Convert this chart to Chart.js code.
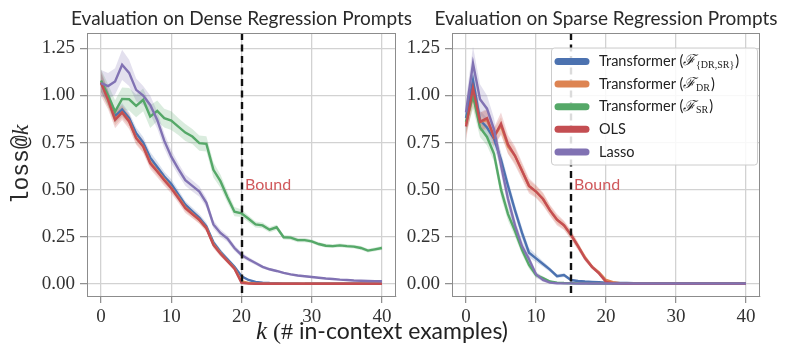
<!DOCTYPE html>
<html>
<head>
<meta charset="utf-8">
<script src="https://cdn.jsdelivr.net/npm/chart.js@4.4.1/dist/chart.umd.min.js"></script>
<style>
  body { margin: 0; background: #fff; width: 789px; height: 359px; overflow: hidden; position: relative; }
  #dense { position: absolute; left: 0; top: 0; }
  #sparse { position: absolute; left: 400px; top: 0; }
  #xlabel { position: absolute; left: 256px; top: 316px; line-height: 1; white-space: nowrap; color: #222; font: 23px Lato, sans-serif; }
  #xlabel .m { font: italic 25px "Liberation Serif", serif; }
  #xlabel .s { font: 24px "Liberation Serif", serif; }
</style>
</head>
<body>
<canvas id="dense" width="420" height="359"></canvas>
<canvas id="sparse" width="389" height="359"></canvas>
<div id="xlabel"><span class="m">k</span><span class="s"> (#</span> in-context examples)</div>
<script>
// k = number of in-context examples
const kValues = [0, 1, 2, 3, 4, 5, 6, 7, 8, 9, 10, 11, 12, 13, 14, 15, 16, 17, 18, 19, 20,
  21, 22, 23, 24, 25, 26, 27, 28, 29, 30, 31, 32, 33, 34, 35, 36, 37, 38, 39, 40];
const xTicks = [0, 10, 20, 30, 40];
const yTicks = [0, 0.25, 0.5, 0.75, 1.0, 1.25];

const seriesNames = ['Transformer', 'Transformer', 'Transformer', 'OLS', 'Lasso'];
const seriesSubs = ['{DR,SR}', 'DR', 'SR', '', ''];
const seriesColors = ['#4C72B0', '#DD8452', '#55A868', '#C44E52', '#8172B3'];

const denseBound = 20;
const sparseBound = 15;

// ---- dense regression prompts (left) ----
const denseBlue = [1.07, 0.99, 0.89, 0.925, 0.88, 0.80, 0.75, 0.67, 0.62, 0.57,
  0.53, 0.475, 0.42, 0.385, 0.35, 0.305, 0.22, 0.17, 0.13, 0.09,
  0.04, 0.02, 0.01, 0.006, 0.004, 0.003, 0.002, 0.002, 0.002, 0.001,
  0.001, 0.001, 0.001, 0.001, 0.001, 0.001, 0.001, 0.001, 0.001, 0.001, 0.001];
const denseOrange = [1.07, 0.98, 0.875, 0.91, 0.865, 0.775, 0.73, 0.645, 0.60, 0.555,
  0.51, 0.46, 0.405, 0.372, 0.34, 0.297, 0.21, 0.163, 0.122, 0.082,
  0.012, 0.004, 0.002, 0.001, 0, 0, 0, 0, 0, 0,
  0, 0, 0, 0, 0, 0, 0, 0, 0, 0, 0];
const denseGreen = [1.08, 1.0, 0.915, 0.982, 0.98, 0.945, 0.977, 0.888, 0.918, 0.88,
  0.867, 0.835, 0.803, 0.782, 0.747, 0.743, 0.605, 0.545, 0.46, 0.383,
  0.374, 0.345, 0.315, 0.31, 0.287, 0.30, 0.247, 0.245, 0.232, 0.232,
  0.225, 0.211, 0.202, 0.2, 0.204, 0.2, 0.197, 0.19, 0.176, 0.183, 0.19];
const denseRed = [1.066, 0.977, 0.871, 0.91, 0.862, 0.773, 0.729, 0.64, 0.596, 0.55,
  0.507, 0.455, 0.401, 0.37, 0.339, 0.295, 0.206, 0.16, 0.12, 0.08,
  0.005, 0.001, 0, 0, 0, 0, 0, 0, 0, 0,
  0, 0, 0, 0, 0, 0, 0, 0, 0, 0, 0];
const densePurple = [1.066, 1.05, 1.075, 1.163, 1.12, 1.03, 1.0, 0.95, 0.87, 0.76,
  0.675, 0.61, 0.55, 0.52, 0.49, 0.43, 0.315, 0.27, 0.24, 0.19,
  0.153, 0.13, 0.11, 0.09, 0.077, 0.068, 0.058, 0.05, 0.044, 0.04,
  0.036, 0.032, 0.028, 0.025, 0.022, 0.02, 0.017, 0.016, 0.015, 0.014, 0.013];

// half widths of the shaded bands
const denseBlueBand = [0.05, 0.04, 0.035, 0.035, 0.03, 0.03, 0.03, 0.03, 0.03, 0.025,
  0.025, 0.025, 0.02, 0.02, 0.02, 0.02, 0.015, 0.015, 0.012, 0.01,
  0.008, 0.005, 0.003, 0.002, 0.001, 0.001, 0.001, 0.001, 0.001, 0.001,
  0.001, 0.001, 0.001, 0.001, 0.001, 0.001, 0.001, 0.001, 0.001, 0.001, 0.001];
const denseOrangeBand = [0.05, 0.04, 0.035, 0.03, 0.03, 0.03, 0.03, 0.025, 0.025, 0.025,
  0.02, 0.02, 0.02, 0.02, 0.02, 0.015, 0.015, 0.012, 0.01, 0.01,
  0.006, 0.003, 0.001, 0, 0, 0, 0, 0, 0, 0,
  0, 0, 0, 0, 0, 0, 0, 0, 0, 0, 0];
const denseGreenBand = [0.06, 0.06, 0.06, 0.06, 0.06, 0.06, 0.06, 0.06, 0.055, 0.05,
  0.05, 0.045, 0.045, 0.04, 0.04, 0.04, 0.04, 0.035, 0.03, 0.025,
  0.02, 0.018, 0.016, 0.015, 0.015, 0.014, 0.012, 0.012, 0.011, 0.011,
  0.01, 0.01, 0.01, 0.01, 0.01, 0.01, 0.01, 0.01, 0.01, 0.01, 0.01];
const denseRedBand = [0.07, 0.05, 0.045, 0.04, 0.04, 0.035, 0.035, 0.03, 0.03, 0.03,
  0.028, 0.025, 0.025, 0.022, 0.02, 0.02, 0.018, 0.015, 0.012, 0.01,
  0.005, 0.002, 0, 0, 0, 0, 0, 0, 0, 0,
  0, 0, 0, 0, 0, 0, 0, 0, 0, 0, 0];
const densePurpleBand = [0.07, 0.07, 0.07, 0.08, 0.07, 0.06, 0.05, 0.05, 0.045, 0.04,
  0.035, 0.032, 0.03, 0.03, 0.028, 0.025, 0.022, 0.02, 0.018, 0.016,
  0.014, 0.012, 0.01, 0.009, 0.008, 0.007, 0.006, 0.006, 0.005, 0.005,
  0.005, 0.004, 0.004, 0.004, 0.004, 0.004, 0.003, 0.003, 0.003, 0.003, 0.003];

// ---- sparse regression prompts (right) ----
const sparseBlue = [0.88, 1.08, 0.87, 0.83, 0.77, 0.66, 0.52, 0.39, 0.27, 0.165,
  0.135, 0.105, 0.075, 0.04, 0.046, 0.02, 0.015, 0.012, 0.01, 0.008,
  0.006, 0.005, 0.004, 0.004, 0.003, 0.003, 0.003, 0.002, 0.002, 0.002,
  0.002, 0.002, 0.002, 0.002, 0.002, 0.002, 0.002, 0.002, 0.002, 0.002, 0.002];
const sparseOrange = [0.85, 1.0, 0.86, 0.87, 0.78, 0.84, 0.73, 0.68, 0.60, 0.52,
  0.49, 0.45, 0.39, 0.34, 0.31, 0.26, 0.2, 0.14, 0.09, 0.06,
  0.02, 0.008, 0.003, 0.001, 0, 0, 0, 0, 0, 0,
  0, 0, 0, 0, 0, 0, 0, 0, 0, 0, 0];
const sparseGreen = [0.86, 1.0, 0.83, 0.78, 0.69, 0.50, 0.37, 0.28, 0.18, 0.10,
  0.046, 0.03, 0.012, 0.006, 0.004, 0.003, 0.002, 0.002, 0.001, 0.001,
  0.001, 0.001, 0.001, 0.001, 0.001, 0.001, 0.001, 0.001, 0.001, 0.001,
  0.001, 0.001, 0.001, 0.001, 0.001, 0.001, 0.001, 0.001, 0.001, 0.001, 0.001];
const sparseRed = [0.835, 1.04, 0.86, 0.88, 0.78, 0.85, 0.74, 0.68, 0.60, 0.52,
  0.49, 0.45, 0.39, 0.34, 0.31, 0.26, 0.2, 0.135, 0.09, 0.055,
  0.01, 0.003, 0.001, 0, 0, 0, 0, 0, 0, 0,
  0, 0, 0, 0, 0, 0, 0, 0, 0, 0, 0];
const sparsePurple = [0.91, 1.17, 0.98, 0.93, 0.82, 0.63, 0.45, 0.31, 0.20, 0.13,
  0.05, 0.02, 0.006, 0.003, 0.002, 0.002, 0.001, 0.001, 0.001, 0.001,
  0.001, 0.001, 0.001, 0.001, 0.001, 0.001, 0.001, 0.001, 0.001, 0.001,
  0.001, 0.001, 0.001, 0.001, 0.001, 0.001, 0.001, 0.001, 0.001, 0.001, 0.001];

const sparseBlueBand = [0.06, 0.08, 0.05, 0.05, 0.045, 0.04, 0.035, 0.03, 0.03, 0.025,
  0.02, 0.015, 0.012, 0.01, 0.01, 0.006, 0.004, 0.003, 0.002, 0.002,
  0.001, 0.001, 0.001, 0.001, 0.001, 0.001, 0.001, 0.001, 0.001, 0.001,
  0.001, 0.001, 0.001, 0.001, 0.001, 0.001, 0.001, 0.001, 0.001, 0.001, 0.001];
const sparseOrangeBand = [0.06, 0.06, 0.05, 0.05, 0.045, 0.045, 0.04, 0.04, 0.035, 0.03,
  0.03, 0.03, 0.025, 0.022, 0.02, 0.02, 0.018, 0.015, 0.012, 0.01,
  0.006, 0.003, 0.002, 0.001, 0, 0, 0, 0, 0, 0,
  0, 0, 0, 0, 0, 0, 0, 0, 0, 0, 0];
const sparseGreenBand = [0.06, 0.07, 0.05, 0.045, 0.04, 0.04, 0.035, 0.03, 0.025, 0.02,
  0.015, 0.01, 0.005, 0.003, 0.002, 0.002, 0.001, 0.001, 0.001, 0.001,
  0.001, 0.001, 0.001, 0.001, 0.001, 0.001, 0.001, 0.001, 0.001, 0.001,
  0.001, 0.001, 0.001, 0.001, 0.001, 0.001, 0.001, 0.001, 0.001, 0.001, 0.001];
const sparseRedBand = [0.07, 0.07, 0.05, 0.05, 0.05, 0.06, 0.05, 0.05, 0.045, 0.04,
  0.035, 0.035, 0.03, 0.03, 0.025, 0.025, 0.02, 0.016, 0.012, 0.01,
  0.005, 0.002, 0.001, 0, 0, 0, 0, 0, 0, 0,
  0, 0, 0, 0, 0, 0, 0, 0, 0, 0, 0];
const sparsePurpleBand = [0.07, 0.09, 0.08, 0.07, 0.06, 0.05, 0.04, 0.035, 0.03, 0.022,
  0.015, 0.01, 0.005, 0.003, 0.002, 0.001, 0.001, 0.001, 0.001, 0.001,
  0.001, 0.001, 0.001, 0.001, 0.001, 0.001, 0.001, 0.001, 0.001, 0.001,
  0.001, 0.001, 0.001, 0.001, 0.001, 0.001, 0.001, 0.001, 0.001, 0.001, 0.001];

const frameColor = '#8c8c8c';
const gridColor = '#d2d2d2';

function rgba(hex, a) {
  const n = parseInt(hex.slice(1), 16);
  return `rgba(${n >> 16}, ${(n >> 8) & 255}, ${n & 255}, ${a})`;
}

function buildDatasets(means, bands) {
  const sets = [];
  means.forEach((m, i) => {
    const up = kValues.map((k, j) => ({ x: k, y: m[j] + bands[i][j] }));
    const lo = kValues.map((k, j) => ({ x: k, y: m[j] - bands[i][j] }));
    sets.push({ data: up, borderWidth: 0, borderColor: 'transparent', pointRadius: 0,
      fill: '+1', backgroundColor: rgba(seriesColors[i], 0.22), order: 20 - i });
    sets.push({ data: lo, borderWidth: 0, borderColor: 'transparent', pointRadius: 0,
      fill: false, order: 20 - i });
  });
  means.forEach((m, i) => {
    sets.push({ label: seriesNames[i], data: kValues.map((k, j) => ({ x: k, y: m[j] })),
      borderColor: seriesColors[i], borderWidth: 2.4, pointRadius: 0, fill: false,
      order: 4 - i });
  });
  return sets;
}

// dashed bound, titles, frame, y label and the legend
const panelDecor = {
  id: 'panelDecor',
  afterDatasetsDraw(chart, args, o) {
    const { ctx, chartArea: a, scales: { x, y } } = chart;
    const bx = Math.round(x.getPixelForValue(o.bound));
    ctx.save();
    ctx.strokeStyle = '#111';
    ctx.lineWidth = 2.4;
    ctx.setLineDash([7, 4.5]);
    ctx.beginPath();
    ctx.moveTo(bx, a.top);
    ctx.lineTo(bx, a.bottom);
    ctx.stroke();
    ctx.setLineDash([]);
    ctx.fillStyle = '#d0595c';
    ctx.font = '16px Lato';
    ctx.textBaseline = 'alphabetic';
    ctx.fillText('Bound', bx + 3, y.getPixelForValue(0.5));
    ctx.restore();
  },
  afterDraw(chart, args, o) {
    const { ctx, chartArea: a } = chart;
    ctx.save();
    // frame top / right
    ctx.strokeStyle = frameColor;
    ctx.lineWidth = 1;
    ctx.strokeRect(Math.round(a.left) + 0.5, Math.round(a.top) + 0.5,
      Math.round(a.right - a.left) - 1, Math.round(a.bottom - a.top));
    // title
    ctx.fillStyle = '#2a2a2a';
    ctx.font = '19px Lato';
    ctx.textAlign = 'center';
    ctx.textBaseline = 'alphabetic';
    ctx.fillText(o.title, (a.left + a.right) / 2, 25);
    // y label
    if (o.yLabel) {
      ctx.save();
      ctx.translate(28, (a.top + a.bottom) / 2);
      ctx.rotate(-Math.PI / 2);
      ctx.textAlign = 'left';
      ctx.font = '23px "Liberation Mono"';
      const w1 = ctx.measureText('loss@').width;
      ctx.font = 'italic 24px "Liberation Serif"';
      const w2 = ctx.measureText('k').width;
      let x0 = -(w1 + w2) / 2;
      ctx.font = '23px "Liberation Mono"';
      ctx.fillText('loss@', x0, 0);
      ctx.font = 'italic 24px "Liberation Serif"';
      ctx.fillText('k', x0 + w1, 0);
      ctx.restore();
    }
    // legend
    if (o.legend) {
      const bw = 206, bh = 117;
      const bx = a.right - 3 - bw, by = a.top + 14.5;
      ctx.beginPath();
      ctx.roundRect(bx + 0.5, by + 0.5, bw, bh, 3);
      ctx.fillStyle = 'rgba(255,255,255,0.85)';
      ctx.fill();
      ctx.strokeStyle = '#cccccc';
      ctx.lineWidth = 1;
      ctx.stroke();
      ctx.textAlign = 'left';
      seriesNames.forEach((name, i) => {
        const ry = by + 14 + i * 22.6;
        ctx.strokeStyle = seriesColors[i];
        ctx.lineWidth = 7;
        ctx.lineCap = 'round';
        ctx.beginPath();
        ctx.moveTo(bx + 7, ry);
        ctx.lineTo(bx + 35, ry);
        ctx.stroke();
        ctx.fillStyle = '#222';
        ctx.textBaseline = 'middle';
        let tx = bx + 48;
        ctx.font = '14.5px Lato';
        if (seriesSubs[i]) {
          const head = name + ' (';
          ctx.fillText(head, tx, ry);
          tx += ctx.measureText(head).width;
          ctx.font = 'italic 15px "DejaVu Serif"';
          ctx.fillText('\u2131', tx, ry);
          tx += ctx.measureText('\u2131').width + 0.5;
          ctx.font = '10px "Liberation Serif"';
          ctx.fillText(seriesSubs[i], tx, ry + 4);
          tx += ctx.measureText(seriesSubs[i]).width + 1;
          ctx.font = '14.5px Lato';
          ctx.fillText(')', tx, ry);
        } else {
          ctx.fillText(name, tx, ry);
        }
      });
    }
    ctx.restore();
  }
};

function makeChart(id, means, bands, opts) {
  return new Chart(document.getElementById(id), {
    type: 'line',
    data: { datasets: buildDatasets(means, bands) },
    plugins: [panelDecor],
    options: {
      responsive: false,
      animation: false,
      devicePixelRatio: 1,
      layout: { padding: { left: 0, right: opts.rightPad, top: 33, bottom: 33 } },
      plugins: {
        legend: { display: false },
        tooltip: { enabled: false },
        panelDecor: opts.decor
      },
      scales: {
        x: {
          type: 'linear', min: -2, max: 42,
          afterBuildTicks: s => { s.ticks = xTicks.map(v => ({ value: v })); },
          afterFit: s => { s.height = 30; },
          grid: { color: gridColor, lineWidth: 1.3, tickLength: 7, tickColor: frameColor, tickWidth: 1.2 },
          border: { color: frameColor, width: 1 },
          ticks: { color: '#333', padding: 3, maxRotation: 0, autoSkip: false,
            font: { family: 'Liberation Serif', size: 19 }, callback: v => String(v) }
        },
        y: {
          type: 'linear', min: -0.065, max: 1.332,
          afterBuildTicks: s => { s.ticks = yTicks.map(v => ({ value: v })); },
          afterFit: s => { s.width = opts.yWidth; },
          grid: { color: gridColor, lineWidth: 1.3, tickLength: 7, tickColor: frameColor, tickWidth: 1.2 },
          border: { color: frameColor, width: 1 },
          ticks: { color: '#333', padding: 5,
            font: { family: 'Liberation Serif', size: 19 }, callback: v => v.toFixed(2) }
        }
      }
    }
  });
}

window.addEventListener('load', () => {
  makeChart('dense',
    [denseBlue, denseOrange, denseGreen, denseRed, densePurple],
    [denseBlueBand, denseOrangeBand, denseGreenBand, denseRedBand, densePurpleBand],
    { rightPad: 24, yWidth: 87,
      decor: { title: 'Evaluation on Dense Regression Prompts', bound: denseBound, yLabel: true, legend: false } });
  makeChart('sparse',
    [sparseBlue, sparseOrange, sparseGreen, sparseRed, sparsePurple],
    [sparseBlueBand, sparseOrangeBand, sparseGreenBand, sparseRedBand, sparsePurpleBand],
    { rightPad: 29, yWidth: 52,
      decor: { title: 'Evaluation on Sparse Regression Prompts', bound: sparseBound, yLabel: false, legend: true } });
});
</script>
</body>
</html>
